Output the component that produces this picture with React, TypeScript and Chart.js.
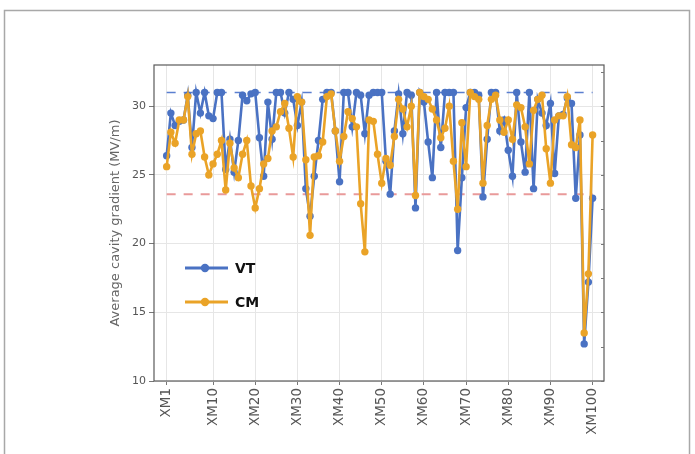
import React, { useEffect, useRef } from "react";
import { Chart, registerables } from "chart.js";

Chart.register(...registerables);

// Category tick labels (cavity names) and their positions along the sample index
const tickPositions = [0, 11, 21, 31, 41, 51, 61, 71, 81, 91, 101];
const tickLabels = ["XM1", "XM10", "XM20", "XM30", "XM40", "XM50", "XM60", "XM70", "XM80", "XM90", "XM100"];

// Average cavity gradient (MV/m), vertical test
const vtValues = [
  26.4, 29.5, 28.6, 28.9, 29.0, 30.8, 27.0, 31.0, 29.5, 31.0,
  29.3, 29.1, 31.0, 31.0, 25.4, 27.6, 25.2, 27.5, 30.8, 30.4,
  30.9, 31.0, 27.7, 24.9, 30.3, 27.6, 31.0, 31.0, 29.5, 31.0,
  30.5, 28.6, 30.3, 24.0, 22.0, 24.9, 27.5, 30.5, 31.0, 31.0,
  28.2, 24.5, 31.0, 31.0, 28.5, 31.0, 30.8, 28.0, 30.8, 31.0,
  31.0, 31.0, 26.0, 23.6, 28.2, 30.9, 28.0, 31.0, 30.8, 22.6,
  31.0, 30.3, 27.4, 24.8, 31.0, 27.0, 31.0, 31.0, 31.0, 19.5,
  24.8, 29.9, 31.0, 31.0, 30.8, 23.4, 27.6, 31.0, 31.0, 28.2,
  29.0, 26.8, 24.9, 31.0, 27.4, 25.2, 31.0, 24.0, 30.5, 29.5,
  28.6, 30.2, 25.1, 29.3, 29.4, 30.6, 30.2, 23.3, 27.9, 12.7,
  17.2, 23.3,
];

// Average cavity gradient (MV/m), cryomodule
const cmValues = [
  25.6, 28.1, 27.3, 29.0, 29.0, 30.7, 26.5, 28.0, 28.2, 26.3,
  25.0, 25.8, 26.5, 27.5, 23.9, 27.3, 25.5, 24.8, 26.5, 27.5,
  24.2, 22.6, 24.0, 25.8, 26.2, 28.2, 28.5, 29.6, 30.2, 28.4,
  26.3, 30.7, 30.3, 26.1, 20.6, 26.3, 26.4, 27.4, 30.7, 30.9,
  28.2, 26.0, 27.8, 29.6, 29.1, 28.5, 22.9, 19.4, 29.0, 28.9,
  26.5, 24.4, 26.2, 25.7, 27.8, 30.5, 29.8, 28.5, 30.0, 23.5,
  31.0, 30.7, 30.5, 29.8, 29.0, 27.7, 28.4, 30.0, 26.0, 22.5,
  28.8, 25.6, 31.0, 30.7, 30.5, 24.4, 28.6, 30.5, 30.8, 29.0,
  28.1, 29.0, 27.6, 30.1, 29.9, 28.5, 25.8, 29.7, 30.5, 30.8,
  26.9, 24.4, 29.0, 29.3, 29.3, 30.7, 27.2, 27.0, 29.0, 13.5,
  17.8, 27.9,
];

const vtAverage = 31.0;
const cmAverage = 23.6;
const yTicks = [10, 15, 20, 25, 30];

const VT_COLOR = "#4a72c3";
const CM_COLOR = "#eaa327";
const FONT = "'DejaVu Sans', sans-serif";

const framePlugin = {
  id: "frameAndLegend",
  beforeDraw(chart: any) {
    const ctx = chart.ctx;
    ctx.save();
    ctx.fillStyle = "#ffffff";
    ctx.fillRect(0, 0, chart.width, chart.height);
    ctx.strokeStyle = "#a8a8a8";
    ctx.lineWidth = 1.5;
    ctx.strokeRect(4.5, 10.5, 685, 470);
    ctx.restore();
  },
  afterDraw(chart: any) {
    const ctx = chart.ctx;
    const a = chart.chartArea;
    const y = chart.scales.y;
    ctx.save();
    // plot box
    ctx.strokeStyle = "#5a5a5a";
    ctx.lineWidth = 1.2;
    ctx.strokeRect(a.left, a.top, a.right - a.left, a.bottom - a.top);
    // minor ticks on right edge
    ctx.strokeStyle = "#777";
    ctx.lineWidth = 1;
    for (let v = 10; v <= 33; v += 2.5) {
      const py = Math.round(y.getPixelForValue(v)) + 0.5;
      ctx.beginPath();
      ctx.moveTo(a.right, py);
      ctx.lineTo(a.right - 3, py);
      ctx.stroke();
    }
    // legend
    const items = [
      { label: "VT", color: VT_COLOR, cy: 268 },
      { label: "CM", color: CM_COLOR, cy: 302 },
    ];
    ctx.font = `bold 14px ${FONT}`;
    ctx.textBaseline = "middle";
    for (const it of items) {
      ctx.strokeStyle = it.color;
      ctx.lineWidth = 3;
      ctx.beginPath();
      ctx.moveTo(185, it.cy);
      ctx.lineTo(228, it.cy);
      ctx.stroke();
      ctx.fillStyle = it.color;
      ctx.beginPath();
      ctx.arc(205, it.cy, 4.2, 0, Math.PI * 2);
      ctx.fill();
      ctx.fillStyle = "#111";
      ctx.fillText(it.label, 235, it.cy + 1);
    }
    ctx.restore();
  },
};

export default function App() {
  const ref = useRef<HTMLCanvasElement | null>(null);

  useEffect(() => {
    if (!ref.current) return;
    const last = vtValues.length - 1;
    const chart = new Chart(ref.current, {
      type: "line",
      data: {
        datasets: [
          {
            label: "CM",
            data: cmValues.map((v, i) => ({ x: i, y: v })),
            borderColor: CM_COLOR,
            backgroundColor: CM_COLOR,
            borderWidth: 2.6,
            pointRadius: 3.7,
            pointBorderWidth: 0,
            pointBackgroundColor: CM_COLOR,
            order: 1,
          },
          {
            label: "VT",
            data: vtValues.map((v, i) => ({ x: i, y: v })),
            borderColor: VT_COLOR,
            backgroundColor: VT_COLOR,
            borderWidth: 2.6,
            pointRadius: 3.7,
            pointBorderWidth: 0,
            pointBackgroundColor: VT_COLOR,
            order: 2,
          },
          {
            label: "VT average",
            data: [{ x: 0, y: vtAverage }, { x: last, y: vtAverage }],
            borderColor: "#5b7fd0",
            borderWidth: 1.5,
            borderDash: [9, 8],
            pointRadius: 0,
            order: 3,
          },
          {
            label: "CM average",
            data: [{ x: 0, y: cmAverage }, { x: last, y: cmAverage }],
            borderColor: "#e99a9a",
            borderWidth: 2,
            borderDash: [9, 8],
            pointRadius: 0,
            order: 3,
          },
        ],
      },
      options: {
        responsive: false,
        animation: false,
        devicePixelRatio: 1,
        layout: { padding: { left: 104, top: 65, right: 91, bottom: 0 } },
        plugins: {
          legend: { display: false },
          tooltip: { enabled: false },
        },
        scales: {
          x: {
            type: "linear",
            min: -3,
            max: 103.7,
            afterBuildTicks: (scale: any) => {
              scale.ticks = tickPositions.map((v) => ({ value: v }));
            },
            afterFit: (scale: any) => {
              scale.height = 73;
            },
            ticks: {
              autoSkip: false,
              minRotation: 90,
              maxRotation: 90,
              padding: 3,
              color: "#555",
              font: { family: FONT, size: 13.5 },
              callback: (_v: any, index: number) => tickLabels[index],
            },
            grid: { color: "#e6e6e6", tickLength: 4, tickColor: "#777" },
            border: { display: false },
          },
          y: {
            type: "linear",
            min: 10,
            max: 33,
            afterBuildTicks: (scale: any) => {
              scale.ticks = yTicks.map((v) => ({ value: v }));
            },
            afterFit: (scale: any) => {
              scale.width = 50;
            },
            ticks: {
              padding: 3,
              color: "#555",
              font: { family: FONT, size: 11 },
            },
            grid: { color: "#e6e6e6", tickLength: 5, tickColor: "#777" },
            border: { display: false },
            title: {
              display: true,
              text: "Average cavity gradient (MV/m)",
              color: "#666",
              font: { family: FONT, size: 13 },
            },
          },
        },
      },
      plugins: [framePlugin],
    });
    return () => chart.destroy();
  }, []);

  return (
    <div style={{ position: "absolute", left: 0, top: 0, width: 695, height: 454 }}>
      <canvas ref={ref} width={695} height={454} style={{ display: "block" }} />
    </div>
  );
}
